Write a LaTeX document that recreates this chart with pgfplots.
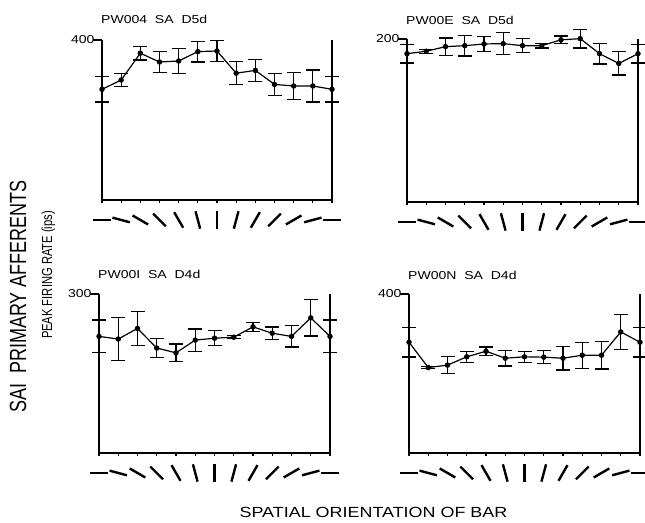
\documentclass[border=0pt]{standalone}
\usepackage{pgfplots}
\pgfplotsset{compat=1.18}
\usepackage{pgfplotstable}
\usepackage{fontspec}
\usepackage{graphicx}
\setmainfont{Liberation Sans}[FakeStretch=1.22]
\newfontfamily\vfont{Liberation Sans}

\newcommand\seg[1]{\tikz{\path[use as bounding box] (-10pt,-10pt) rectangle (10pt,10pt);\draw[line width=2.4pt,line cap=butt] (#1:9pt) -- (#1+180:9pt);}}

\pgfplotstableread{
x y e
0 276.7 32
1 300 17
2 367 17
3 345 26
4 347.5 32
5 371 26
6 372.5 26
7 317 29
8 324 28
9 289 27
10 285 33
11 285 40
12 276.7 32
}\dataA
\pgfplotstableread{
x y e
0 182 11.5
1 185 2.5
2 190.6 10.5
3 191.8 12.5
4 193.9 9.5
5 194.3 13.5
6 191.8 8.6
7 191.8 2.7
8 199 4.7
9 200.4 11.5
10 182 12.5
11 170 14.3
12 182 11.5
}\dataB
\pgfplotstableread{
x y e
0 220 31
1 215 40
2 235 32
3 198 18
4 189 16.5
5 213 21
6 216.6 14
7 218.5 3
8 238 8.5
9 226 11.5
10 220 20
11 255 34
12 220 31
}\dataC
\pgfplotstableread{
x y e
0 278.7 37
1 215 2.5
2 221 21
3 242 14
4 256 11
5 238.5 19.7
6 242 14
7 241 16
8 238.5 30
9 246 32.6
10 246 35
11 304.6 43.5
12 278.7 37
}\dataD

\pgfplotsset{
  panel/.style={
    scale only axis, anchor=south west,
    xmin=0, xmax=12, ymin=0, clip=false,
    axis x line*=bottom, axis y line*=left,
    axis line style={line width=1.2pt, black},
    tick align=outside,
    xtick={0,...,12},
    xticklabels={{\seg{0}},{\seg{-15}},{\seg{-30}},{\seg{-45}},{\seg{-60}},{\seg{-75}},{\seg{-90}},{\seg{-105}},{\seg{-120}},{\seg{-135}},{\seg{-150}},{\seg{-165}},{\seg{-180}}},
    xticklabel style={anchor=north, inner sep=0pt, yshift=-5.5pt},
    xtick style={/pgfplots/major tick length=3.5pt, line width=1.1pt, black},
    ytick style={/pgfplots/major tick length=9pt, line width=1.1pt, black},
    ytick pos=left,
    yticklabel style={font=\fontsize{11.5}{13}\selectfont, inner sep=0pt, anchor=east, xshift=-3pt},
  },
  dat/.style={black, line width=1.2pt, mark=*, mark size=2.1pt,
    error bars/.cd, y dir=both, y explicit,
    error bar style={line width=1.3pt, black},
    error mark options={rotate=90, line width=1.3pt, mark size=7pt, black}},
}
\newcommand\ptitle[2]{\node[anchor=base west, inner sep=0pt, font=\fontsize{11.5}{13}\selectfont] at (rel axis cs:0,1) [xshift=-1pt, yshift=#2] {#1};}
\newcommand\panelframe{\draw[line width=1.2pt] (rel axis cs:1,0) -- (rel axis cs:1,1);\draw[line width=1.1pt] (rel axis cs:0,1) -- ++(-9pt,0);}

\begin{document}
\begin{tikzpicture}
\path[use as bounding box] (0,0) rectangle (645pt,522pt);

\begin{axis}[panel, at={(102pt,322pt)}, width=230pt, height=160pt, ymax=400, ytick={400}, yticklabels={400}]
\addplot[dat] table[x=x, y=y, y error=e] {\dataA};
\panelframe
\ptitle{PW004~~SA~~D5d}{16pt}
\end{axis}

\begin{axis}[panel, at={(407pt,320pt)}, width=231pt, height=163pt, ymax=200, ytick={200}, yticklabels={200}]
\addplot[dat] table[x=x, y=y, y error=e] {\dataB};
\panelframe
\ptitle{PW00E~~SA~~D5d}{14pt}
\end{axis}

\begin{axis}[panel, at={(99pt,69pt)}, width=231pt, height=159pt, ymax=300, ytick={300}, yticklabels={300}]
\addplot[dat] table[x=x, y=y, y error=e] {\dataC};
\panelframe
\ptitle{PW00I~~SA~~D4d}{15pt}
\end{axis}

\begin{axis}[panel, at={(409pt,69pt)}, width=231pt, height=159pt, ymax=400, ytick={400}, yticklabels={400}]
\addplot[dat] table[x=x, y=y, y error=e] {\dataD};
\panelframe
\ptitle{PW00N~~SA~~D4d}{15pt}
\end{axis}

\node[anchor=base, inner sep=0pt, font=\fontsize{14.7}{16}\selectfont] at (373.5pt,5pt) {SPATIAL ORIENTATION OF BAR};
\node[rotate=90, anchor=base, inner sep=0pt] at (26pt,225.5pt) {\scalebox{1}[1.3]{\vfont\fontsize{18}{20}\selectfont SAI~~PRIMARY AFFERENTS}};
\node[rotate=90, anchor=base, inner sep=0pt] at (52pt,247pt) {\scalebox{1}[1.3]{\vfont\fontsize{11.2}{13}\selectfont PEAK FIRING RATE (ips)}};
\end{tikzpicture}
\end{document}
